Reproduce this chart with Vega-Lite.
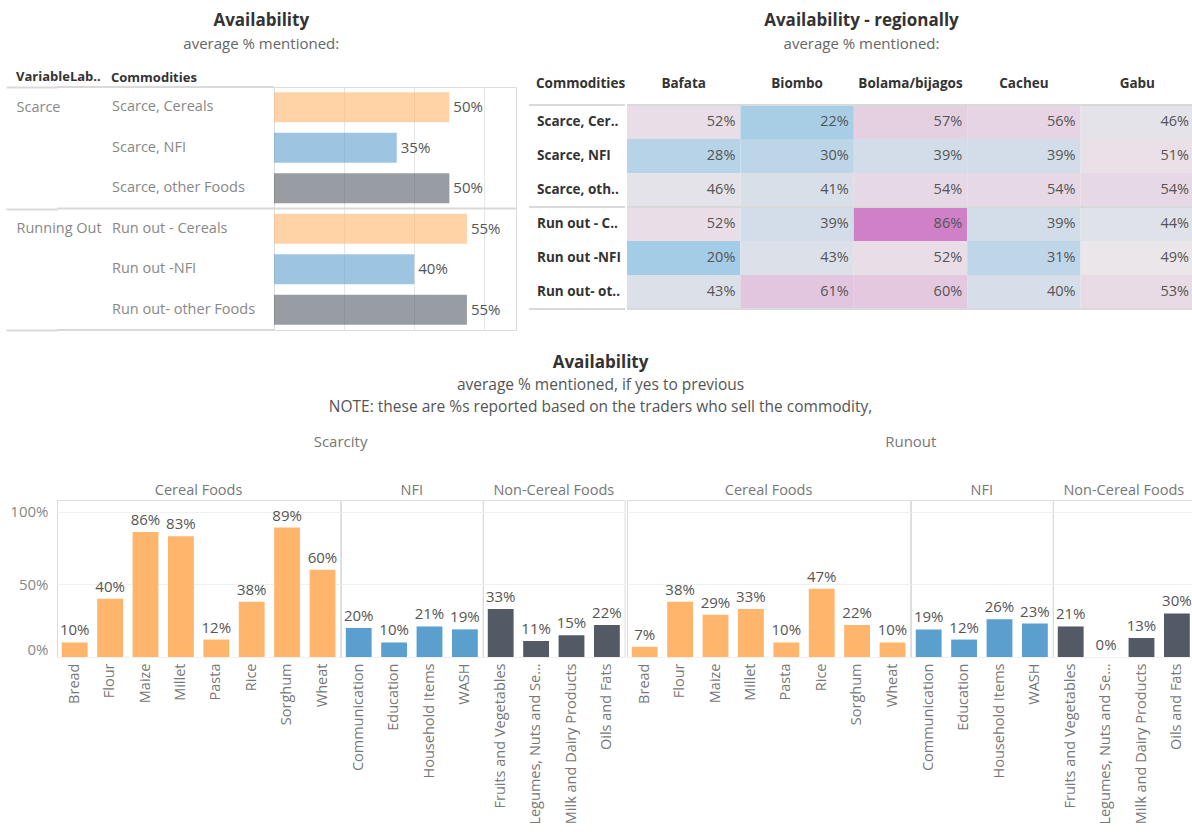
{
  "$schema": "https://vega.github.io/schema/vega-lite/v6.json",
  "padding": {"left": 5, "top": 12, "right": 0, "bottom": 0},
  "background": "white",
  "config": {
    "font": "Open Sans",
    "view": {"stroke": null},
    "title": {"font": "Open Sans"},
    "axis": {"labelFont": "Open Sans", "titleFont": "Open Sans"},
    "header": {"labelFont": "Open Sans", "titleFont": "Open Sans"},
    "text": {"font": "Open Sans"}
  },
  "datasets": {
    "avail": [
      {"Variable": "Scarce", "Commodity": "Scarce, Cereals", "Type": "Cereals", "Value": 0.50},
      {"Variable": "Scarce", "Commodity": "Scarce, NFI", "Type": "NFI", "Value": 0.35},
      {"Variable": "Scarce", "Commodity": "Scarce, other Foods", "Type": "other Foods", "Value": 0.50},
      {"Variable": "Running Out", "Commodity": "Run out - Cereals", "Type": "Cereals", "Value": 0.55},
      {"Variable": "Running Out", "Commodity": "Run out -NFI", "Type": "NFI", "Value": 0.40},
      {"Variable": "Running Out", "Commodity": "Run out- other Foods", "Type": "other Foods", "Value": 0.55}
    ],
    "regional": [
      {"Region": "Bafata", "Commodity": "Scarce, Cereals", "Value": 0.52},
      {"Region": "Bafata", "Commodity": "Scarce, NFI", "Value": 0.28},
      {"Region": "Bafata", "Commodity": "Scarce, other Foods", "Value": 0.46},
      {"Region": "Bafata", "Commodity": "Run out - Cereals", "Value": 0.52},
      {"Region": "Bafata", "Commodity": "Run out -NFI", "Value": 0.20},
      {"Region": "Bafata", "Commodity": "Run out- other Foods", "Value": 0.43},
      {"Region": "Biombo", "Commodity": "Scarce, Cereals", "Value": 0.22},
      {"Region": "Biombo", "Commodity": "Scarce, NFI", "Value": 0.30},
      {"Region": "Biombo", "Commodity": "Scarce, other Foods", "Value": 0.41},
      {"Region": "Biombo", "Commodity": "Run out - Cereals", "Value": 0.39},
      {"Region": "Biombo", "Commodity": "Run out -NFI", "Value": 0.43},
      {"Region": "Biombo", "Commodity": "Run out- other Foods", "Value": 0.61},
      {"Region": "Bolama/bijagos", "Commodity": "Scarce, Cereals", "Value": 0.57},
      {"Region": "Bolama/bijagos", "Commodity": "Scarce, NFI", "Value": 0.39},
      {"Region": "Bolama/bijagos", "Commodity": "Scarce, other Foods", "Value": 0.54},
      {"Region": "Bolama/bijagos", "Commodity": "Run out - Cereals", "Value": 0.86},
      {"Region": "Bolama/bijagos", "Commodity": "Run out -NFI", "Value": 0.52},
      {"Region": "Bolama/bijagos", "Commodity": "Run out- other Foods", "Value": 0.60},
      {"Region": "Cacheu", "Commodity": "Scarce, Cereals", "Value": 0.56},
      {"Region": "Cacheu", "Commodity": "Scarce, NFI", "Value": 0.39},
      {"Region": "Cacheu", "Commodity": "Scarce, other Foods", "Value": 0.54},
      {"Region": "Cacheu", "Commodity": "Run out - Cereals", "Value": 0.39},
      {"Region": "Cacheu", "Commodity": "Run out -NFI", "Value": 0.31},
      {"Region": "Cacheu", "Commodity": "Run out- other Foods", "Value": 0.40},
      {"Region": "Gabu", "Commodity": "Scarce, Cereals", "Value": 0.46},
      {"Region": "Gabu", "Commodity": "Scarce, NFI", "Value": 0.51},
      {"Region": "Gabu", "Commodity": "Scarce, other Foods", "Value": 0.54},
      {"Region": "Gabu", "Commodity": "Run out - Cereals", "Value": 0.44},
      {"Region": "Gabu", "Commodity": "Run out -NFI", "Value": 0.49},
      {"Region": "Gabu", "Commodity": "Run out- other Foods", "Value": 0.53}
    ],
    "bottom": [
      {"Measure": "Scarcity", "Group": "Cereal Foods", "Item": "Bread", "Value": 0.10},
      {"Measure": "Scarcity", "Group": "Cereal Foods", "Item": "Flour", "Value": 0.40},
      {"Measure": "Scarcity", "Group": "Cereal Foods", "Item": "Maize", "Value": 0.86},
      {"Measure": "Scarcity", "Group": "Cereal Foods", "Item": "Millet", "Value": 0.83},
      {"Measure": "Scarcity", "Group": "Cereal Foods", "Item": "Pasta", "Value": 0.12},
      {"Measure": "Scarcity", "Group": "Cereal Foods", "Item": "Rice", "Value": 0.38},
      {"Measure": "Scarcity", "Group": "Cereal Foods", "Item": "Sorghum", "Value": 0.89},
      {"Measure": "Scarcity", "Group": "Cereal Foods", "Item": "Wheat", "Value": 0.60},
      {"Measure": "Scarcity", "Group": "NFI", "Item": "Communication", "Value": 0.20},
      {"Measure": "Scarcity", "Group": "NFI", "Item": "Education", "Value": 0.10},
      {"Measure": "Scarcity", "Group": "NFI", "Item": "Household Items", "Value": 0.21},
      {"Measure": "Scarcity", "Group": "NFI", "Item": "WASH", "Value": 0.19},
      {"Measure": "Scarcity", "Group": "Non-Cereal Foods", "Item": "Fruits and Vegetables", "Value": 0.33},
      {"Measure": "Scarcity", "Group": "Non-Cereal Foods", "Item": "Legumes, Nuts and Seeds", "Value": 0.11},
      {"Measure": "Scarcity", "Group": "Non-Cereal Foods", "Item": "Milk and Dairy Products", "Value": 0.15},
      {"Measure": "Scarcity", "Group": "Non-Cereal Foods", "Item": "Oils and Fats", "Value": 0.22},
      {"Measure": "Runout", "Group": "Cereal Foods", "Item": "Bread", "Value": 0.07},
      {"Measure": "Runout", "Group": "Cereal Foods", "Item": "Flour", "Value": 0.38},
      {"Measure": "Runout", "Group": "Cereal Foods", "Item": "Maize", "Value": 0.29},
      {"Measure": "Runout", "Group": "Cereal Foods", "Item": "Millet", "Value": 0.33},
      {"Measure": "Runout", "Group": "Cereal Foods", "Item": "Pasta", "Value": 0.10},
      {"Measure": "Runout", "Group": "Cereal Foods", "Item": "Rice", "Value": 0.47},
      {"Measure": "Runout", "Group": "Cereal Foods", "Item": "Sorghum", "Value": 0.22},
      {"Measure": "Runout", "Group": "Cereal Foods", "Item": "Wheat", "Value": 0.10},
      {"Measure": "Runout", "Group": "NFI", "Item": "Communication", "Value": 0.19},
      {"Measure": "Runout", "Group": "NFI", "Item": "Education", "Value": 0.12},
      {"Measure": "Runout", "Group": "NFI", "Item": "Household Items", "Value": 0.26},
      {"Measure": "Runout", "Group": "NFI", "Item": "WASH", "Value": 0.23},
      {"Measure": "Runout", "Group": "Non-Cereal Foods", "Item": "Fruits and Vegetables", "Value": 0.21},
      {"Measure": "Runout", "Group": "Non-Cereal Foods", "Item": "Legumes, Nuts and Seeds", "Value": 0.00},
      {"Measure": "Runout", "Group": "Non-Cereal Foods", "Item": "Milk and Dairy Products", "Value": 0.13},
      {"Measure": "Runout", "Group": "Non-Cereal Foods", "Item": "Oils and Fats", "Value": 0.30}
    ]
  },
  "spacing": 23,
  "vconcat": [
    {
      "spacing": 10,
      "hconcat": [
        {
          "title": {"text": "Availability", "subtitle": "average % mentioned:", "anchor": "middle", "fontSize": 17, "fontWeight": "bold", "color": "#333", "subtitleFontSize": 15, "subtitleColor": "#666", "subtitlePadding": 7, "offset": 18},
          "bounds": "flush",
          "spacing": 0,
          "hconcat": [
            {
              "width": 47, "height": 243,
              "title": {"text": "VariableLab..", "anchor": "start", "frame": "group", "fontSize": 13, "fontWeight": "bold", "color": "#333", "offset": -5, "dx": -41},
              "data": {"name": "avail"},
              "encoding": {"y": {"field": "Variable", "type": "nominal", "scale": {"type": "band", "domain": ["Scarce", "Running Out"], "paddingInner": 0, "paddingOuter": 0},
                "axis": {"title": null, "domain": false, "ticks": true, "tickBand": "extent", "tickSize": 51, "tickColor": "#d9d9d9", "tickWidth": 2, "labelAlign": "left", "labelBaseline": "middle", "labelPadding": -10, "labelOffset": -40.5, "labelColor": "#888", "labelFontSize": 14.5, "minExtent": 51, "maxExtent": 51}}},
              "layer": [
                {"transform": [{"filter": {"field": "Commodity", "oneOf": ["Scarce, Cereals", "Run out - Cereals"]}}],
                 "mark": {"type": "rule", "color": "#d9d9d9", "strokeWidth": 2},
                 "encoding": {"y": {"field": "Variable", "type": "nominal", "bandPosition": 0}}},
                {"transform": [{"filter": {"field": "Commodity", "equal": "Run out - Cereals"}}],
                 "mark": {"type": "rule", "color": "#d9d9d9", "strokeWidth": 2},
                 "encoding": {"y": {"field": "Variable", "type": "nominal", "bandPosition": 1}}}
              ]
            },
            {
              "width": 170, "height": 243,
              "title": {"text": "Commodities", "anchor": "start", "fontSize": 13, "fontWeight": "bold", "color": "#333", "offset": 1, "dx": 8},
              "data": {"name": "avail"},
              "encoding": {"y": {"field": "Commodity", "type": "nominal", "scale": {"type": "band", "domain": ["Scarce, Cereals", "Scarce, NFI", "Scarce, other Foods", "Run out - Cereals", "Run out -NFI", "Run out- other Foods"], "paddingInner": 0, "paddingOuter": 0}, "axis": null}},
              "layer": [
                {"mark": {"type": "text", "align": "left", "dx": 8, "fontSize": 14.5, "color": "#888"},
                 "encoding": {"x": {"datum": 0, "type": "quantitative", "scale": {"domain": [0, 1]}, "axis": null}, "text": {"field": "Commodity"}}},
                {"transform": [{"filter": {"field": "Commodity", "oneOf": ["Scarce, Cereals", "Run out - Cereals"]}}],
                 "mark": {"type": "rule", "color": "#d9d9d9", "strokeWidth": 2},
                 "encoding": {"y": {"field": "Commodity", "type": "nominal", "bandPosition": 0}}},
                {"transform": [{"filter": {"field": "Commodity", "equal": "Run out- other Foods"}}],
                 "mark": {"type": "rule", "color": "#d9d9d9", "strokeWidth": 2},
                 "encoding": {"y": {"field": "Commodity", "type": "nominal", "bandPosition": 1}}}
              ]
            },
            {
              "width": 242, "height": 243,
              "view": {"stroke": "#dcdcdc"},
              "data": {"name": "avail"},
              "encoding": {"y": {"field": "Commodity", "type": "nominal", "scale": {"type": "band", "domain": ["Scarce, Cereals", "Scarce, NFI", "Scarce, other Foods", "Run out - Cereals", "Run out -NFI", "Run out- other Foods"], "paddingInner": 0, "paddingOuter": 0}, "axis": null}},
              "layer": [
                {"mark": {"type": "bar", "height": {"band": 0.74}, "opacity": 0.6},
                 "encoding": {
                   "x": {"field": "Value", "type": "quantitative", "scale": {"domain": [0, 0.69], "nice": false}, "axis": {"values": [0.2, 0.4, 0.6], "labels": false, "ticks": false, "domain": false, "title": null, "grid": true, "gridColor": "#e6e6e6"}},
                   "color": {"field": "Type", "type": "nominal", "scale": {"domain": ["Cereals", "NFI", "other Foods"], "range": ["#ffb56b", "#5b9fcf", "#535a66"]}, "legend": null}}},
                {"mark": {"type": "text", "align": "left", "dx": 4, "fontSize": 15, "color": "#555"},
                 "encoding": {"x": {"field": "Value", "type": "quantitative"}, "text": {"field": "Value", "format": ".0%"}}},
                {"transform": [{"filter": {"field": "Commodity", "oneOf": ["Run out - Cereals"]}}],
                 "mark": {"type": "rule", "color": "#d9d9d9", "strokeWidth": 2},
                 "encoding": {"y": {"field": "Commodity", "type": "nominal", "bandPosition": 0}}}
              ]
            }
          ]
        },
        {
          "title": {"text": "Availability - regionally", "subtitle": "average % mentioned:", "anchor": "middle", "fontSize": 17, "fontWeight": "bold", "color": "#333", "subtitleFontSize": 15, "subtitleColor": "#666", "subtitlePadding": 7, "offset": 23},
          "bounds": "flush",
          "spacing": 2,
          "hconcat": [
            {
              "width": 96, "height": 222,
              "title": {"text": "Commodities", "anchor": "start", "fontSize": 13.5, "fontWeight": "bold", "color": "#333", "offset": -3, "dx": 8},
              "data": {"name": "avail"},
              "encoding": {"y": {"field": "Commodity", "type": "nominal", "scale": {"type": "band", "domain": ["Scarce, Cereals", "Scarce, NFI", "Scarce, other Foods", "Run out - Cereals", "Run out -NFI", "Run out- other Foods"], "paddingInner": 0, "paddingOuter": 0.2647, "align": 1}, "axis": null}},
              "layer": [
                {"mark": {"type": "text", "align": "left", "dx": 8, "fontSize": 13.5, "fontWeight": "bold", "color": "#333", "limit": 84, "ellipsis": ".."},
                 "encoding": {"x": {"datum": 0, "type": "quantitative", "scale": {"domain": [0, 1]}, "axis": null}, "text": {"field": "Commodity"}}},
                {"transform": [{"filter": {"field": "Commodity", "oneOf": ["Scarce, Cereals", "Run out - Cereals"]}}],
                 "mark": {"type": "rule", "color": "#d9d9d9", "strokeWidth": 2},
                 "encoding": {"y": {"field": "Commodity", "type": "nominal", "bandPosition": 0}}},
                {"transform": [{"filter": {"field": "Commodity", "equal": "Run out- other Foods"}}],
                 "mark": {"type": "rule", "color": "#d9d9d9", "strokeWidth": 2},
                 "encoding": {"y": {"field": "Commodity", "type": "nominal", "bandPosition": 1}}}
              ]
            },
            {
              "width": 567, "height": 222,
              "data": {"name": "regional"},
              "encoding": {
                "y": {"field": "Commodity", "type": "nominal", "scale": {"type": "band", "domain": ["Scarce, Cereals", "Scarce, NFI", "Scarce, other Foods", "Run out - Cereals", "Run out -NFI", "Run out- other Foods"], "paddingInner": 0, "paddingOuter": 0.2647, "align": 1}, "axis": null},
                "x": {"field": "Region", "type": "nominal", "scale": {"type": "band", "domain": ["Bafata", "Biombo", "Bolama/bijagos", "Cacheu", "Gabu"], "paddingInner": 0, "paddingOuter": 0}, "axis": {"orient": "top", "title": null, "ticks": false, "domain": false, "labelAngle": 0, "labelFontSize": 13.5, "labelFontWeight": "bold", "labelColor": "#333", "labelPadding": -3}}
              },
              "layer": [
                {"mark": {"type": "rect"},
                 "encoding": {"color": {"field": "Value", "type": "quantitative", "scale": {"type": "linear", "domain": [0.2, 0.49, 0.86], "range": ["#a3cce6", "#ebe6ea", "#cf80c6"], "interpolate": "rgb"}, "legend": null}}},
                {"mark": {"type": "text", "align": "right", "dx": -5, "fontSize": 14.5, "color": "#555"},
                 "encoding": {"x": {"field": "Region", "type": "nominal", "bandPosition": 1}, "text": {"field": "Value", "format": ".0%"}}},
                {"data": {"name": "avail"},
                 "transform": [{"filter": {"field": "Commodity", "oneOf": ["Scarce, Cereals", "Run out - Cereals"]}}],
                 "mark": {"type": "rule", "color": "#d9d9d9", "strokeWidth": 2},
                 "encoding": {"x": null, "y": {"field": "Commodity", "type": "nominal", "bandPosition": 0}}},
                {"data": {"name": "avail"},
                 "transform": [{"filter": {"field": "Commodity", "equal": "Run out- other Foods"}}],
                 "mark": {"type": "rule", "color": "#d9d9d9", "strokeWidth": 2},
                 "encoding": {"x": null, "y": {"field": "Commodity", "type": "nominal", "bandPosition": 1}}}
              ]
            }
          ]
        }
      ]
    },
    {
      "title": {"text": "Availability", "subtitle": ["average % mentioned, if yes to previous", "NOTE: these are %s reported based on the traders who sell the commodity,"], "anchor": "middle", "fontSize": 17, "fontWeight": "bold", "color": "#333", "subtitleFontSize": 15.5, "subtitleColor": "#555", "subtitleLineHeight": 22, "subtitlePadding": 6, "offset": 18},
      "spacing": 0,
      "hconcat": [
        {
          "title": {"text": "Scarcity", "anchor": "middle", "fontSize": 15, "fontWeight": "normal", "color": "#777", "offset": 33, "dx": 25},
          "data": {"name": "bottom"},
          "transform": [{"filter": "datum.Measure === 'Scarcity'"}],
          "facet": {"column": {"field": "Group", "type": "nominal", "sort": ["Cereal Foods", "NFI", "Non-Cereal Foods"], "header": {"title": null, "labelFontSize": 14.5, "labelColor": "#777", "labelPadding": 2}}},
          "spacing": 0,
          "bounds": "flush",
          "resolve": {"scale": {"x": "independent"}},
          "spec": {
            "width": {"step": 35.4}, "height": 157,
            "view": {"stroke": "#dcdcdc"},
            "encoding": {
              "x": {"field": "Item", "type": "nominal", "scale": {"paddingInner": 0.27, "paddingOuter": 0.135}, "axis": {"title": null, "labelAngle": -90, "ticks": false, "domain": false, "labelColor": "#777", "labelFontSize": 14.5, "labelPadding": 6, "labelLimit": 168}},
              "y": {"field": "Value", "type": "quantitative", "scale": {"domain": [0, 1.08], "nice": false}, "axis": {"values": [0, 0.5, 1], "format": ".0%", "title": null, "ticks": false, "domain": false, "labelFlush": true, "labelColor": "#888", "labelFontSize": 15, "labelPadding": 9, "grid": true, "gridColor": "#f0f0f0", "minExtent": 51, "maxExtent": 51}}
            },
            "layer": [
              {"mark": {"type": "bar"},
               "encoding": {"color": {"field": "Group", "type": "nominal", "scale": {"domain": ["Cereal Foods", "NFI", "Non-Cereal Foods"], "range": ["#ffb56b", "#5b9fcf", "#535a66"]}, "legend": null}}},
              {"mark": {"type": "text", "dy": -4, "baseline": "bottom", "fontSize": 15, "color": "#555"},
               "encoding": {"text": {"field": "Value", "format": ".0%"}}}
            ]
          }
        },
        {
          "title": {"text": "Runout", "anchor": "middle", "fontSize": 15, "fontWeight": "normal", "color": "#777", "offset": 33},
          "data": {"name": "bottom"},
          "transform": [{"filter": "datum.Measure === 'Runout'"}],
          "facet": {"column": {"field": "Group", "type": "nominal", "sort": ["Cereal Foods", "NFI", "Non-Cereal Foods"], "header": {"title": null, "labelFontSize": 14.5, "labelColor": "#777", "labelPadding": 2}}},
          "spacing": 0,
          "bounds": "flush",
          "resolve": {"scale": {"x": "independent"}},
          "spec": {
            "width": {"step": 35.4}, "height": 157,
            "view": {"stroke": "#dcdcdc"},
            "encoding": {
              "x": {"field": "Item", "type": "nominal", "scale": {"paddingInner": 0.27, "paddingOuter": 0.135}, "axis": {"title": null, "labelAngle": -90, "ticks": false, "domain": false, "labelColor": "#777", "labelFontSize": 14.5, "labelPadding": 6, "labelLimit": 168}},
              "y": {"field": "Value", "type": "quantitative", "scale": {"domain": [0, 1.08], "nice": false}, "axis": {"values": [0, 0.5, 1], "labels": false, "title": null, "ticks": false, "domain": false, "grid": true, "gridColor": "#f0f0f0", "minExtent": 0, "maxExtent": 0}}
            },
            "layer": [
              {"mark": {"type": "bar"},
               "encoding": {"color": {"field": "Group", "type": "nominal", "scale": {"domain": ["Cereal Foods", "NFI", "Non-Cereal Foods"], "range": ["#ffb56b", "#5b9fcf", "#535a66"]}, "legend": null}}},
              {"mark": {"type": "text", "dy": -4, "baseline": "bottom", "fontSize": 15, "color": "#555"},
               "encoding": {"text": {"field": "Value", "format": ".0%"}}}
            ]
          }
        }
      ]
    }
  ]
}
